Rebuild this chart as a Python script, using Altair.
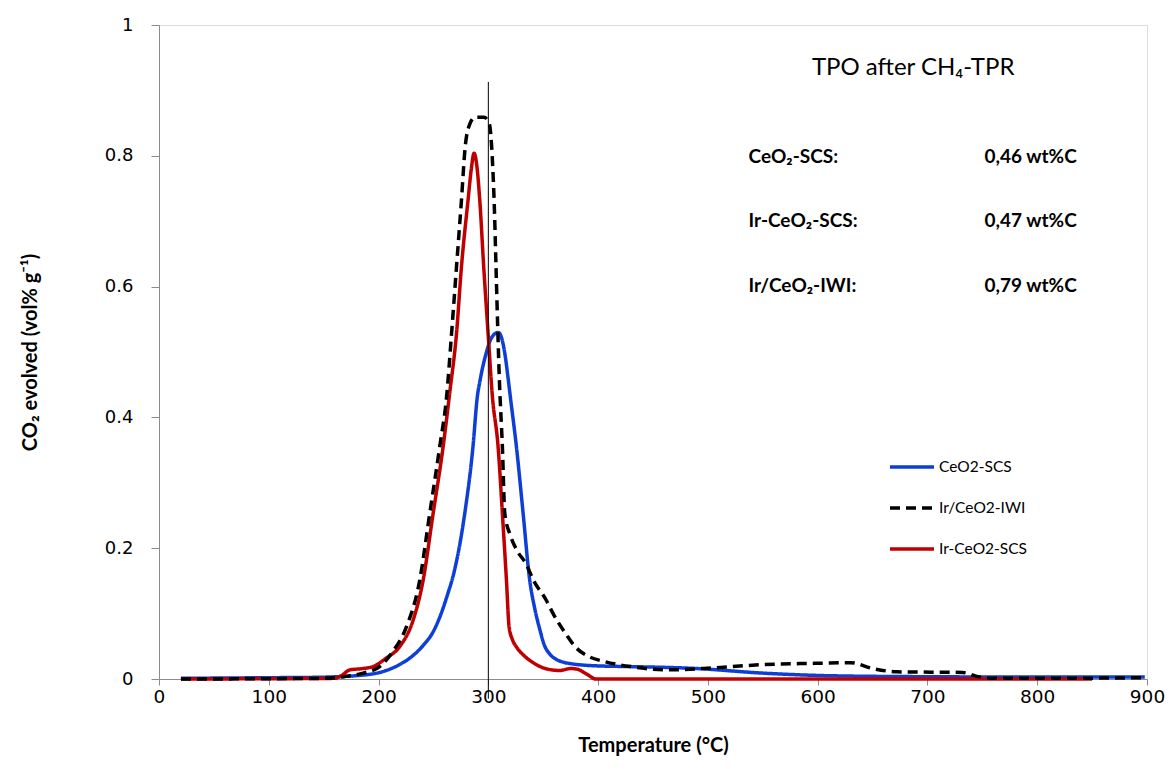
import altair as alt
import pandas as pd

# ---------- data ----------
ceo2_x = [20, 100, 140, 186, 207, 218, 230, 241, 250, 257, 263, 268, 278.5, 286, 290, 292.5, 298, 303,
          309, 312, 315, 318, 320, 325.6, 331.7, 337.7, 342, 347, 351, 356, 362, 370, 377, 400, 429, 490,
          550, 611, 700, 800, 898]
ceo2_y = [0.001, 0.002, 0.0025, 0.006, 0.013, 0.021, 0.034, 0.052, 0.073, 0.100, 0.130, 0.158, 0.253,
          0.355, 0.432, 0.457, 0.498, 0.522, 0.530, 0.522, 0.498, 0.46, 0.432, 0.355, 0.253, 0.151, 0.11,
          0.075, 0.052, 0.038, 0.030, 0.025, 0.023, 0.020, 0.019, 0.016, 0.009, 0.005, 0.0035, 0.003, 0.003]

irceo2_x = [20, 160, 166, 174, 186, 195, 207, 219, 231.5, 240.6, 249.7, 258.8, 265, 271, 275.5, 281.5,
            284.5, 287, 289.5, 292.2, 295.8, 299.8, 303.7, 308.9, 312.8, 316.5, 318.9, 322, 325.6, 333,
            340.8, 352, 365, 375, 381, 390, 398, 850]
irceo2_y = [0.0, 0.001, 0.005, 0.014, 0.016, 0.019, 0.032, 0.049, 0.09, 0.151, 0.253, 0.355, 0.44,
            0.528, 0.630, 0.732, 0.78, 0.804, 0.785, 0.732, 0.630, 0.528, 0.432, 0.355, 0.253, 0.151,
            0.08, 0.06, 0.049, 0.035, 0.025, 0.016, 0.013, 0.016, 0.015, 0.007, 0.0, 0.0]

iwi_x = [20, 150, 170.7, 186, 201, 213, 225, 237.5, 246.6, 255.7, 262, 266.5, 271, 275.5, 279, 283,
         288, 296, 301, 303.5, 305.5, 307, 308.5, 310, 312.8, 315, 320, 325.6, 334.7, 340.8, 352.9, 359,
         371, 378.7, 392, 405, 429, 465, 505, 550, 600, 630, 650, 672, 732, 745, 760, 800, 900]
iwi_y = [0.0, 0.001, 0.004, 0.009, 0.019, 0.042, 0.078, 0.151, 0.253, 0.355, 0.432, 0.528, 0.630, 0.732,
         0.815, 0.848, 0.859, 0.859, 0.848, 0.80, 0.72, 0.63, 0.54, 0.46, 0.355, 0.253, 0.22, 0.198,
         0.175, 0.152, 0.12, 0.10, 0.068, 0.05, 0.034, 0.027, 0.019, 0.014, 0.017, 0.022, 0.024, 0.025,
         0.016, 0.011, 0.010, 0.004, 0.001, 0.001, 0.002]

series_names = ["CeO2-SCS", "Ir/CeO2-IWI", "Ir-CeO2-SCS"]
series_colors = ["#0D3FD6", "#000000", "#C00000"]
series_dashes = [[1, 0], [10, 6], [1, 0]]

x_ticks = [0, 100, 200, 300, 400, 500, 600, 700, 800, 900]
y_ticks = [0, 0.2, 0.4, 0.6, 0.8, 1]

marker_x = [300, 300]
marker_y = [-0.03, 0.913]

title_text = ["TPO after CH₄-TPR"]
title_x = [687]
title_y = [0.934]

ann_labels = ["CeO₂-SCS:", "Ir-CeO₂-SCS:", "Ir/CeO₂-IWI:"]
ann_values = ["0,46 wt%C", "0,47 wt%C", "0,79 wt%C"]
ann_label_x = 537
ann_value_x = 752
ann_y = [0.798, 0.700, 0.601]

FONT = "Lato"
TICK_FONT = "DejaVu Sans"

# ---------- tables ----------
rows = []
for name, xs, ys in [("CeO2-SCS", ceo2_x, ceo2_y), ("Ir-CeO2-SCS", irceo2_x, irceo2_y),
                     ("Ir/CeO2-IWI", iwi_x, iwi_y)]:
    for i, (a, b) in enumerate(zip(xs, ys)):
        rows.append({"series": name, "T": a, "v": b, "i": i})
df = pd.DataFrame(rows)

xscale = alt.Scale(domain=[0, 900], nice=False, zero=False)
yscale = alt.Scale(domain=[0, 1], nice=False)

xaxis = alt.Axis(values=x_ticks, title="Temperature (°C)", grid=False, tickSize=6, labelPadding=2,
                 labelFontSize=18.5, labelFont=TICK_FONT, titleFont=FONT, titleFontSize=20,
                 titleFontWeight="bold", titlePadding=30, labelColor="#000", titleColor="#000",
                 domainColor="#8c8c8c", tickColor="#8c8c8c", labelFlush=False)
yaxis = alt.Axis(values=y_ticks, title="CO₂ evolved (vol% g⁻¹)", grid=False, tickSize=8, labelPadding=18,
                 format="~g", labelFontSize=18, labelFont=TICK_FONT, titleFont=FONT, titleFontSize=20,
                 titleFontWeight="bold", titlePadding=64, labelColor="#000", titleColor="#000",
                 domainColor="#8c8c8c", tickColor="#8c8c8c")

lines = alt.Chart(df).mark_line(strokeWidth=3.5, interpolate="monotone").encode(
    x=alt.X("T:Q", scale=xscale, axis=xaxis),
    y=alt.Y("v:Q", scale=yscale, axis=yaxis),
    color=alt.Color("series:N", scale=alt.Scale(domain=series_names, range=series_colors),
                    legend=alt.Legend(orient="none", legendX=729, legendY=418, title=None,
                                      symbolType="stroke", symbolSize=1936, symbolStrokeWidth=3.5,
                                      labelFont=FONT, labelFontSize=15.5, labelColor="#000",
                                      rowPadding=8, labelOffset=3, padding=0)),
    strokeDash=alt.StrokeDash("series:N", scale=alt.Scale(domain=series_names, range=series_dashes)),
    order="i:Q",
)

marker_df = pd.DataFrame({"T": marker_x, "v": marker_y})
marker = alt.Chart(marker_df).mark_line(color="#000", strokeWidth=1).encode(
    x=alt.X("T:Q", scale=xscale), y=alt.Y("v:Q", scale=yscale))

title_df = pd.DataFrame({"T": title_x, "v": title_y, "t": title_text})
title = alt.Chart(title_df).mark_text(font=FONT, fontSize=24, align="center", baseline="middle",
                                      color="#000").encode(
    x=alt.X("T:Q", scale=xscale), y=alt.Y("v:Q", scale=yscale), text="t:N")

ann_df = pd.DataFrame({"T": [ann_label_x] * 3, "v": ann_y, "t": ann_labels})
ann = alt.Chart(ann_df).mark_text(font=FONT, fontSize=19, fontWeight="bold", align="left",
                                  baseline="middle", color="#000").encode(
    x=alt.X("T:Q", scale=xscale), y=alt.Y("v:Q", scale=yscale), text="t:N")

val_df = pd.DataFrame({"T": [ann_value_x] * 3, "v": ann_y, "t": ann_values})
vals = alt.Chart(val_df).mark_text(font=FONT, fontSize=19, fontWeight="bold", align="left",
                                   baseline="middle", color="#000").encode(
    x=alt.X("T:Q", scale=xscale), y=alt.Y("v:Q", scale=yscale), text="t:N")

chart = alt.layer(lines, marker, title, ann, vals).properties(
    width=988, height=654,
    autosize=alt.AutoSizeParams(type="none"),
    padding={"left": 151, "top": 17, "right": 19, "bottom": 82},
).configure_view(stroke="#8c8c8c", strokeWidth=1).configure(background="white")

chart.save("out.html", embed_options={"renderer": "svg", "actions": False})
